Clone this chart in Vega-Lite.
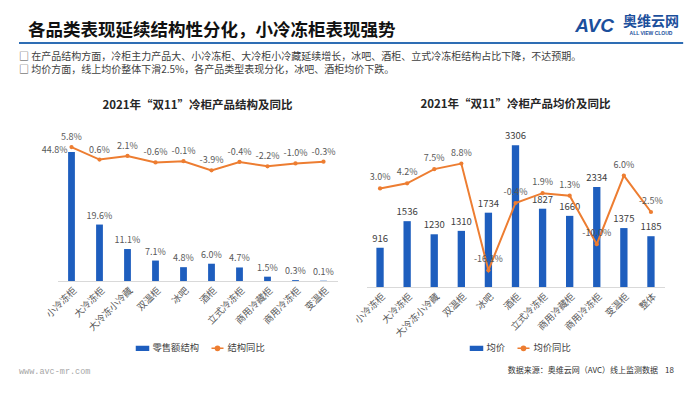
{
  "$schema": "https://vega.github.io/schema/vega-lite/v6.json",
  "padding": {"left": 18, "top": 14, "right": 0, "bottom": 0},
  "background": "white",
  "center": true,
  "spacing": 8,
  "config": {
    "font": "Noto Sans CJK SC",
    "view": {"stroke": null},
    "locale": {"number": {"decimal": ".", "thousands": ",", "grouping": [3], "currency": ["¥", ""], "minus": "-"}}
  },
  "vconcat": [
    {
      "width": 684,
      "height": 29,
      "data": {"values": [{}]},
      "layer": [
        {
          "mark": {"type": "rule", "stroke": "#2E6DB4", "strokeWidth": 2},
          "encoding": {
            "x": {"datum": 0, "type": "quantitative", "scale": {"domain": [0, 1]}, "axis": null},
            "x2": {"datum": 0.971},
            "y": {"datum": 0, "type": "quantitative", "scale": {"domain": [0, 1]}, "axis": null}
          }
        },
        {
          "mark": {"type": "text", "text": "各品类表现延续结构性分化，小冷冻柜表现强势", "align": "left", "baseline": "middle", "fontSize": 17.5, "fontWeight": "bold", "color": "#111111", "dx": 9},
          "encoding": {
            "x": {"datum": 0, "type": "quantitative", "scale": {"domain": [0, 1]}, "axis": null},
            "y": {"datum": 0.42, "type": "quantitative", "scale": {"domain": [0, 1]}, "axis": null}
          }
        },
        {
          "mark": {"type": "text", "text": "AVC", "align": "right", "baseline": "middle", "font": "Liberation Sans", "fontSize": 19, "fontWeight": "bold", "fontStyle": "italic", "color": "#1B4F9C", "dx": -89},
          "encoding": {
            "x": {"datum": 1, "type": "quantitative", "scale": {"domain": [0, 1]}, "axis": null},
            "y": {"datum": 0.6, "type": "quantitative", "scale": {"domain": [0, 1]}, "axis": null}
          }
        },
        {
          "mark": {"type": "text", "text": "奥维云网", "align": "right", "baseline": "middle", "fontSize": 14, "fontWeight": "bold", "color": "#1B4F9C", "dx": -24},
          "encoding": {
            "x": {"datum": 1, "type": "quantitative", "scale": {"domain": [0, 1]}, "axis": null},
            "y": {"datum": 0.72, "type": "quantitative", "scale": {"domain": [0, 1]}, "axis": null}
          }
        },
        {
          "mark": {"type": "text", "text": "ALL VIEW CLOUD", "align": "center", "baseline": "middle", "font": "Liberation Sans", "fontSize": 5, "fontWeight": "bold", "color": "#1B4F9C", "dx": -52},
          "encoding": {
            "x": {"datum": 1, "type": "quantitative", "scale": {"domain": [0, 1]}, "axis": null},
            "y": {"datum": 0.36, "type": "quantitative", "scale": {"domain": [0, 1]}, "axis": null}
          }
        }
      ]
    },
    {
      "width": 684,
      "height": 13,
      "data": {"values": []},
      "title": {
        "text": [" 　□ 在产品结构方面，冷柜主力产品大、小冷冻柜、大冷柜小冷藏延续增长，冰吧、酒柜、立式冷冻柜结构占比下降，不达预期。", " 　□ 均价方面，线上均价整体下滑2.5%，各产品类型表现分化，冰吧、酒柜均价下跌。"],
        "orient": "top",
        "anchor": "start",
        "fontSize": 10,
        "fontWeight": "normal",
        "color": "#404040",
        "lineHeight": 13,
        "offset": 2
      },
      "mark": {"type": "text"},
      "encoding": {}
    },
    {
      "spacing": 15,
      "resolve": {"scale": {"color": "independent"}},
      "hconcat": [
        {
          "width": 280,
          "height": 144,
          "title": {"text": "2021年“双11”冷柜产品结构及同比", "fontSize": 11.5, "fontWeight": "bold", "color": "#262626", "offset": 22},
          "data": {"values": [
            {"cat": "小冷冻柜", "share": 0.448, "yoy": 0.058},
            {"cat": "大冷冻柜", "share": 0.196, "yoy": 0.006},
            {"cat": "大冷冻小冷藏", "share": 0.111, "yoy": 0.021},
            {"cat": "双温柜", "share": 0.071, "yoy": -0.006},
            {"cat": "冰吧", "share": 0.048, "yoy": -0.001},
            {"cat": "酒柜", "share": 0.060, "yoy": -0.039},
            {"cat": "立式冷冻柜", "share": 0.047, "yoy": -0.004},
            {"cat": "商用冷藏柜", "share": 0.015, "yoy": -0.022},
            {"cat": "商用冷冻柜", "share": 0.003, "yoy": -0.010},
            {"cat": "变温柜", "share": 0.001, "yoy": -0.003}
          ]},
          "encoding": {
            "x": {"field": "cat", "type": "nominal", "sort": null,
              "axis": {"title": null, "labelAngle": -45, "labelFontSize": 9.5, "labelColor": "#595959", "ticks": false, "domainColor": "#D9D9D9", "labelPadding": 4}}
          },
          "layer": [
            {
              "mark": {"type": "bar", "width": {"band": 0.27}},
              "encoding": {
                "y": {"field": "share", "type": "quantitative", "scale": {"domain": [0, 0.5]}, "axis": null},
                "color": {"datum": "零售额结构", "scale": {"domain": ["零售额结构", "结构同比"], "range": ["#1E5EBE", "#ED7D31"]},
                  "legend": {"orient": "none", "legendX": 78, "legendY": 204, "title": null, "direction": "horizontal", "labelFontSize": 9.3, "labelColor": "#404040", "symbolSize": 144, "labelOffset": 3, "columnPadding": 9,
                    "encode": {"symbols": {"update": {
                      "shape": {"signal": "datum.value === '零售额结构' ? 'M-1,-0.3H1V0.3H-1Z' : 'M-1,0H1M0.35,0A0.35,0.35,0,1,1,-0.35,0A0.35,0.35,0,1,1,0.35,0'"},
                      "fill": {"signal": "datum.value === '零售额结构' ? '#1E5EBE' : '#ED7D31'"},
                      "stroke": {"signal": "datum.value === '零售额结构' ? '#1E5EBE' : '#ED7D31'"},
                      "strokeWidth": {"value": 1.5}}}}}}
              }
            },
            {
              "transform": [{"filter": "datum.cat !== '小冷冻柜'"}],
              "mark": {"type": "text", "baseline": "bottom", "dy": -4, "fontSize": 9, "color": "#595959"},
              "encoding": {
                "y": {"field": "share", "type": "quantitative", "scale": {"domain": [0, 0.5]}, "axis": null},
                "text": {"field": "share", "type": "quantitative", "format": ".1%"}
              }
            },
            {
              "transform": [{"filter": "datum.cat === '小冷冻柜'"}],
              "mark": {"type": "text", "align": "right", "baseline": "middle", "dx": -4, "dy": -2, "fontSize": 9, "color": "#595959"},
              "encoding": {
                "y": {"field": "share", "type": "quantitative", "scale": {"domain": [0, 0.5]}, "axis": null},
                "text": {"field": "share", "type": "quantitative", "format": ".1%"}
              }
            },
            {
              "mark": {"type": "line", "strokeWidth": 2, "point": {"filled": true, "size": 18}},
              "encoding": {
                "y": {"field": "yoy", "type": "quantitative", "scale": {"domain": [-0.5, 0.1]}, "axis": null},
                "color": {"datum": "结构同比", "scale": {"domain": ["零售额结构", "结构同比"], "range": ["#1E5EBE", "#ED7D31"]}}
              }
            },
            {
              "mark": {"type": "text", "baseline": "bottom", "dy": -5, "fontSize": 9, "color": "#595959"},
              "encoding": {
                "y": {"field": "yoy", "type": "quantitative", "scale": {"domain": [-0.5, 0.1]}, "axis": null},
                "text": {"field": "yoy", "type": "quantitative", "format": ".1%"}
              }
            }
          ],
          "resolve": {"scale": {"y": "independent"}}
        },
        {
          "width": 298,
          "height": 150,
          "title": {"text": "2021年“双11”冷柜产品均价及同比", "fontSize": 11.5, "fontWeight": "bold", "color": "#262626", "offset": 21},
          "data": {"values": [
            {"cat": "小冷冻柜", "price": 916, "yoy": 0.030},
            {"cat": "大冷冻柜", "price": 1536, "yoy": 0.042},
            {"cat": "大冷冻小冷藏", "price": 1230, "yoy": 0.075},
            {"cat": "双温柜", "price": 1310, "yoy": 0.088},
            {"cat": "冰吧", "price": 1734, "yoy": -0.161},
            {"cat": "酒柜", "price": 3306, "yoy": -0.004},
            {"cat": "立式冷冻柜", "price": 1827, "yoy": 0.019},
            {"cat": "商用冷藏柜", "price": 1660, "yoy": 0.013},
            {"cat": "商用冷冻柜", "price": 2334, "yoy": -0.100},
            {"cat": "变温柜", "price": 1375, "yoy": 0.060},
            {"cat": "整体", "price": 1185, "yoy": -0.025}
          ]},
          "encoding": {
            "x": {"field": "cat", "type": "nominal", "sort": null,
              "axis": {"title": null, "labelAngle": -45, "labelFontSize": 9.5, "labelColor": "#595959", "ticks": false, "domainColor": "#D9D9D9", "labelPadding": 4}}
          },
          "layer": [
            {
              "mark": {"type": "bar", "width": {"band": 0.3}},
              "encoding": {
                "y": {"field": "price", "type": "quantitative", "scale": {"domain": [0, 3500]}, "axis": null},
                "color": {"datum": "均价", "scale": {"domain": ["均价", "均价同比"], "range": ["#1E5EBE", "#ED7D31"]},
                  "legend": {"orient": "none", "legendX": 103, "legendY": 204, "title": null, "direction": "horizontal", "labelFontSize": 9.3, "labelColor": "#404040", "symbolSize": 144, "labelOffset": 3, "columnPadding": 9,
                    "encode": {"symbols": {"update": {
                      "shape": {"signal": "datum.value === '均价' ? 'M-1,-0.3H1V0.3H-1Z' : 'M-1,0H1M0.35,0A0.35,0.35,0,1,1,-0.35,0A0.35,0.35,0,1,1,0.35,0'"},
                      "fill": {"signal": "datum.value === '均价' ? '#1E5EBE' : '#ED7D31'"},
                      "stroke": {"signal": "datum.value === '均价' ? '#1E5EBE' : '#ED7D31'"},
                      "strokeWidth": {"value": 1.5}}}}}}
              }
            },
            {
              "mark": {"type": "text", "baseline": "bottom", "dy": -4, "fontSize": 9.5, "color": "#404040"},
              "encoding": {
                "y": {"field": "price", "type": "quantitative", "scale": {"domain": [0, 3500]}, "axis": null},
                "text": {"field": "price", "type": "quantitative", "format": "d"}
              }
            },
            {
              "mark": {"type": "line", "strokeWidth": 2, "point": {"filled": true, "size": 18}},
              "encoding": {
                "y": {"field": "yoy", "type": "quantitative", "scale": {"domain": [-0.2, 0.15]}, "axis": null},
                "color": {"datum": "均价同比", "scale": {"domain": ["均价", "均价同比"], "range": ["#1E5EBE", "#ED7D31"]}}
              }
            },
            {
              "mark": {"type": "text", "baseline": "bottom", "dy": -6, "fontSize": 9, "color": "#595959"},
              "encoding": {
                "y": {"field": "yoy", "type": "quantitative", "scale": {"domain": [-0.2, 0.15]}, "axis": null},
                "text": {"field": "yoy", "type": "quantitative", "format": ".1%"}
              }
            }
          ],
          "resolve": {"scale": {"y": "independent"}}
        }
      ]
    },
    {
      "width": 684,
      "height": 30,
      "data": {"values": [{}]},
      "layer": [
        {
          "mark": {"type": "text", "text": "www.avc-mr.com", "align": "left", "baseline": "middle", "font": "Liberation Mono", "fontSize": 8.5, "color": "#A6A6A6"},
          "encoding": {
            "x": {"datum": 0, "type": "quantitative", "scale": {"domain": [0, 1]}, "axis": null},
            "y": {"datum": 0.7, "type": "quantitative", "scale": {"domain": [0, 1]}, "axis": null}
          }
        },
        {
          "mark": {"type": "text", "text": "数据来源：奥维云网（AVC）线上监测数据", "align": "right", "baseline": "middle", "fontSize": 8, "color": "#333333", "dx": -45},
          "encoding": {
            "x": {"datum": 1, "type": "quantitative", "scale": {"domain": [0, 1]}, "axis": null},
            "y": {"datum": 0.7, "type": "quantitative", "scale": {"domain": [0, 1]}, "axis": null}
          }
        },
        {
          "mark": {"type": "text", "text": "18", "align": "right", "baseline": "middle", "fontSize": 8, "color": "#333333", "dx": -29},
          "encoding": {
            "x": {"datum": 1, "type": "quantitative", "scale": {"domain": [0, 1]}, "axis": null},
            "y": {"datum": 0.7, "type": "quantitative", "scale": {"domain": [0, 1]}, "axis": null}
          }
        }
      ]
    }
  ]
}
